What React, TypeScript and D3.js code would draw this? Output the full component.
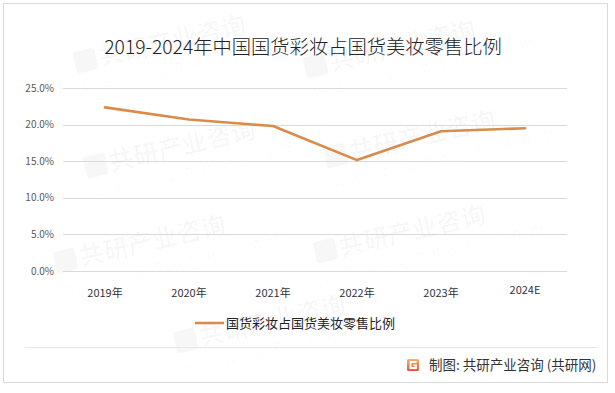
import * as d3 from "d3";
import React, {useEffect, useRef} from "react";

const years = ["2019年", "2020年", "2021年", "2022年", "2023年", "2024E"];
const shares = [0.2235, 0.207, 0.198, 0.1515, 0.191, 0.195];
const yTicks = [0, 0.05, 0.1, 0.15, 0.2, 0.25];
const title = "2019-2024年中国国货彩妆占国货美妆零售比例";
const seriesName = "国货彩妆占国货美妆零售比例";
const source = "制图: 共研产业咨询 (共研网)";

// faint watermark tiles (decoration only)
const marks = [
    [150, 55], [380, 60], [160, 160], [400, 150], [130, 255], [390, 245], [250, 335]
];

const W = 615;
const H = 393;
const FONT = "'Microsoft YaHei', 'Noto Sans CJK SC', 'Noto Sans', sans-serif";

const App = () => {
    const ref = useRef<SVGSVGElement>(null);

    useEffect(() => {
        const svg = d3.select(ref.current);
        svg.selectAll("*").remove();

        svg.append("rect").attr("width", W).attr("height", H).attr("fill", "#fff");

        const defs = svg.append("defs");
        const grad = defs.append("linearGradient").attr("id", "logoGrad")
            .attr("x1", 0).attr("y1", 0).attr("x2", 0).attr("y2", 1);
        grad.append("stop").attr("offset", "0%").attr("stop-color", "#f7b267");
        grad.append("stop").attr("offset", "100%").attr("stop-color", "#e9553a");

        // watermarks
        const wm = svg.append("g").attr("fill", "#000").attr("fill-opacity", 0.03);
        marks.forEach(([mx, my]) => {
            const g = wm.append("g").attr("transform", `translate(${mx},${my}) rotate(-13)`);
            g.append("rect").attr("x", -75).attr("y", -20).attr("width", 22).attr("height", 22).attr("rx", 3);
            g.append("text").attr("x", -50).attr("y", 0)
                .attr("font-family", FONT).attr("font-weight", "bold").attr("font-size", 25)
                .text("共研产业咨询");
            g.append("text").attr("x", -72).attr("y", 22)
                .attr("font-family", FONT).attr("font-size", 15).attr("letter-spacing", 9)
                .text("www.gonyn.com");
        });

        // outer frame
        svg.append("rect")
            .attr("x", 3.5).attr("y", 3.5).attr("width", 604).attr("height", 379)
            .attr("fill", "none").attr("stroke", "#d9d9d9");

        svg.append("text")
            .attr("x", 303).attr("y", 54)
            .attr("text-anchor", "middle")
            .attr("font-family", FONT).attr("font-size", 19.3).attr("font-weight", 300)
            .attr("fill", "#222")
            .text(title);

        const x = d3.scaleBand().domain(years).range([63, 567]);
        const y = d3.scaleLinear().domain([0, 0.25]).range([271, 88]);
        const cx = (d: string) => (x(d) as number) + x.bandwidth() / 2;

        const grid = svg.append("g");
        grid.selectAll("line").data(yTicks).join("line")
            .attr("x1", 63).attr("x2", 567)
            .attr("y1", d => Math.round(y(d)) + 0.5).attr("y2", d => Math.round(y(d)) + 0.5)
            .attr("stroke", "#d9d9d9");

        svg.append("g").selectAll("text").data(yTicks).join("text")
            .attr("x", 54).attr("y", d => y(d))
            .attr("dy", "0.35em")
            .attr("text-anchor", "end")
            .attr("font-family", FONT).attr("font-size", 10).attr("fill", "#595959")
            .text(d => d3.format(".1%")(d));

        svg.append("g").selectAll("text").data(years).join("text")
            .attr("x", d => cx(d)).attr("y", d => d.endsWith("年") ? 297 : 294)
            .attr("text-anchor", "middle")
            .attr("font-family", FONT).attr("font-size", 11).attr("fill", "#333")
            .text(d => d);

        const line = d3.line<number>()
            .x((_, i) => cx(years[i]))
            .y(d => y(d));

        svg.append("path")
            .datum(shares)
            .attr("d", line)
            .attr("fill", "none")
            .attr("stroke", "#d88b4b")
            .attr("stroke-width", 2.6)
            .attr("stroke-linejoin", "round")
            .attr("stroke-linecap", "round");

        // legend
        svg.append("line")
            .attr("x1", 195).attr("x2", 224).attr("y1", 323).attr("y2", 323)
            .attr("stroke", "#d88b4b").attr("stroke-width", 2.6);
        svg.append("text")
            .attr("x", 226).attr("y", 328)
            .attr("font-family", FONT).attr("font-size", 13).attr("fill", "#222")
            .text(seriesName);

        // footer
        svg.append("line")
            .attr("x1", 25).attr("x2", 597).attr("y1", 347.5).attr("y2", 347.5)
            .attr("stroke", "#e6e6e6");
        const logo = svg.append("g").attr("transform", "translate(407,359)");
        logo.append("rect").attr("width", 12).attr("height", 12).attr("rx", 1.5).attr("fill", "url(#logoGrad)");
        logo.append("path")
            .attr("d", "M9.5,3 H3.5 V9 H9 V6.3 H6.3")
            .attr("fill", "none").attr("stroke", "#fff").attr("stroke-width", 1.8);
        svg.append("text")
            .attr("x", 429).attr("y", 370)
            .attr("font-family", FONT).attr("font-size", 13.5).attr("fill", "#333")
            .text(source);
    }, []);

    return (
        <svg ref={ref} width={W} height={H}
             style={{position: "absolute", left: 0, top: 0}}/>
    );
};

export default App;
